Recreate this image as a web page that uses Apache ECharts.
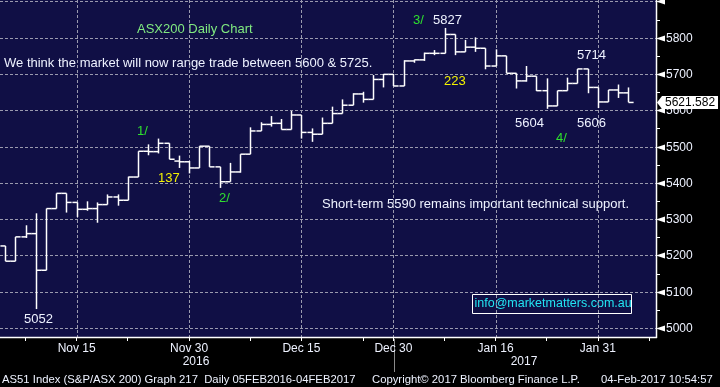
<!DOCTYPE html>
<html><head><meta charset="utf-8">
<script src="https://cdn.jsdelivr.net/npm/echarts@6/dist/echarts.min.js"></script>
<style>html,body{margin:0;padding:0;background:#000;}#c{width:720px;height:387px;}</style>
</head><body><div id="c"></div>
<script>
// ---- data (ASX200 daily OHLC) ----
const dates = ['2016-11-04','2016-11-07','2016-11-08','2016-11-09','2016-11-10','2016-11-11','2016-11-14','2016-11-15','2016-11-16','2016-11-17',
'2016-11-18','2016-11-21','2016-11-22','2016-11-23','2016-11-24','2016-11-25','2016-11-28','2016-11-29','2016-11-30','2016-12-01',
'2016-12-02','2016-12-05','2016-12-06','2016-12-07','2016-12-08','2016-12-09','2016-12-12','2016-12-13','2016-12-14','2016-12-15',
'2016-12-16','2016-12-19','2016-12-20','2016-12-21','2016-12-22','2016-12-23','2016-12-28','2016-12-29','2016-12-30','2017-01-03',
'2017-01-04','2017-01-05','2017-01-06','2017-01-09','2017-01-10','2017-01-11','2017-01-12','2017-01-13','2017-01-16','2017-01-17',
'2017-01-18','2017-01-19','2017-01-20','2017-01-23','2017-01-24','2017-01-25','2017-01-27','2017-01-30','2017-01-31','2017-02-01',
'2017-02-02','2017-02-03','2017-02-06','2017-02-07'];
const opens = [5226,5184,5251,5260,5159,5329,5371,5346,5327,5329,5340,5361,5352,5416,5487,5486,5509,5460,5458,5441,
5501,5444,5403,5430,5479,5543,5561,5564,5547,5587,5539,5534,5564,5591,5614,5645,5630,5685,5699,5667,
5736,5739,5757,5757,5809,5761,5774,5771,5722,5750,5702,5681,5694,5654,5612,5654,5674,5714,5663,5623,5656,5648];
const highs = [5226,5251,5283,5316,5329,5371,5371,5346,5349,5346,5368,5368,5417,5487,5506,5522,5509,5475,5460,5501,
5501,5444,5455,5479,5553,5567,5584,5576,5598,5587,5550,5580,5610,5630,5647,5651,5697,5700,5700,5738,
5740,5759,5766,5827,5809,5794,5801,5771,5768,5750,5702,5722,5694,5688,5654,5690,5714,5714,5663,5656,5671,5663];
const lows = [5184,5184,5248,5052,5159,5329,5318,5306,5323,5290,5340,5337,5352,5416,5476,5481,5465,5441,5426,5441,
5444,5386,5403,5428,5479,5543,5555,5547,5547,5522,5513,5534,5564,5591,5614,5621,5630,5663,5667,5667,
5731,5736,5752,5757,5752,5761,5761,5713,5722,5702,5660,5679,5653,5604,5612,5654,5674,5647,5606,5623,5634,5622];
const closes = [5184,5251,5260,5159,5329,5371,5346,5327,5329,5340,5361,5352,5416,5487,5486,5509,5465,5458,5441,5501,
5444,5403,5430,5479,5543,5561,5564,5547,5587,5539,5534,5564,5591,5614,5645,5630,5685,5699,5667,5736,
5739,5757,5757,5809,5761,5774,5771,5722,5750,5702,5681,5694,5654,5612,5654,5674,5714,5663,5623,5656,5648,5621.582];

const xLabelDates = ['2016-11-15','2016-11-30','2016-12-15','2016-12-30','2017-01-16','2017-01-31'];
const xLabelText  = ['Nov 15','Nov 30','Dec 15','Dec 30','Jan 16','Jan 31'];
const xTickDates  = ['2016-11-08','2016-11-15','2016-11-22','2016-11-30','2016-12-08','2016-12-15','2016-12-23',
                     '2016-12-30','2017-01-09','2017-01-16','2017-01-23','2017-01-31','2017-02-07'];
const yTicks      = [5000,5100,5200,5300,5400,5500,5600,5700,5800,5900];
const yTickLabels = ['5000','5100','5200','5300','5400','5500','5600','5700','5800',''];
const yMinorTicks = [5050,5150,5250,5350,5450,5550,5650,5750,5850];
const lastPrice   = closes[closes.length - 1];

// ---- helpers ----
const FONT = '"Liberation Sans", Arial, sans-serif';
const TXT = '#eef2ff';
const GRID_COLOR = '#9a9aae';
const labelIdx = new Map(xLabelDates.map((d, k) => [dates.indexOf(d), xLabelText[k]]));
const tickIdx = new Set(xTickDates.map(d => dates.indexOf(d)));
const ohlc = opens.map((o, i) => [i, o, highs[i], lows[i], closes[i]]);

function axisRight(cs) { return cs.x + cs.width + 2; }

function renderOHLC(params, api) {
  const i = api.value(0);
  const o = api.coord([i, api.value(1)]);
  const h = api.coord([i, api.value(2)]);
  const l = api.coord([i, api.value(3)]);
  const c = api.coord([i, api.value(4)]);
  const hw = api.size([1, 0])[0] / 2;
  const x = Math.round(o[0]) + 0.5;
  const st = { stroke: '#ffffff', lineWidth: 1.5 };
  return { type: 'group', children: [
    { type: 'line', shape: { x1: x, y1: h[1], x2: x, y2: l[1] }, style: st },
    { type: 'line', shape: { x1: x - hw, y1: o[1], x2: x, y2: o[1] }, style: st },
    { type: 'line', shape: { x1: x, y1: c[1], x2: x + hw, y2: c[1] }, style: st }
  ]};
}

function renderYTick(params, api) {
  const cs = params.coordSys;
  const v = api.value(1);
  const y = Math.round(api.coord([0, v])[1]) + 0.5;
  const ax = axisRight(cs);
  return { type: 'group', children: [
    { type: 'line', shape: { x1: 0, y1: y, x2: ax, y2: y },
      style: { stroke: GRID_COLOR, lineWidth: 1, lineDash: [3, 2] } },
    { type: 'polygon', shape: { points: [[ax, y], [ax + 9, y - 3], [ax + 9, y + 3]] },
      style: { fill: '#ffffff' } },
    { type: 'text', x: ax + 10, y: y,
      style: { text: yTickLabels[params.dataIndex], fill: TXT, font: '12px ' + FONT,
               align: 'left', verticalAlign: 'middle', textAlign: 'left', textVerticalAlign: 'middle' } }
  ]};
}

function renderYMinor(params, api) {
  const cs = params.coordSys;
  const y = Math.round(api.coord([0, api.value(1)])[1]) + 0.5;
  const ax = axisRight(cs);
  return { type: 'line', shape: { x1: ax, y1: y, x2: ax + 4, y2: y }, style: { stroke: '#ffffff', lineWidth: 1 } };
}

function renderXGrid(params, api) {
  const cs = params.coordSys;
  const x = Math.round(api.coord([api.value(0), 5000])[0]) + 0.5;
  return { type: 'line', shape: { x1: x, y1: cs.y, x2: x, y2: cs.y + cs.height },
           style: { stroke: GRID_COLOR, lineWidth: 1, lineDash: [3, 2] } };
}

function renderTag(params, api) {
  const cs = params.coordSys;
  const v = api.value(1);
  const y = api.coord([api.value(0), v])[1];
  const ax = axisRight(cs);
  return { type: 'group', children: [
    { type: 'polygon', shape: { points: [[ax + 1, y], [ax + 6, y - 6.5], [ax + 62, y - 6.5], [ax + 62, y + 6.5], [ax + 6, y + 6.5]] },
      style: { fill: '#ffffff' } },
    { type: 'text', x: ax + 9, y: y,
      style: { text: v.toFixed(3), fill: '#000000', font: '12px ' + FONT,
               align: 'left', verticalAlign: 'middle', textAlign: 'left', textVerticalAlign: 'middle' } }
  ]};
}

function txt(x, y, text, color, size) {
  return { type: 'text', x: x, y: y, silent: true,
    style: { text: text, fill: color, font: (size || 13) + 'px ' + FONT,
             align: 'left', verticalAlign: 'middle', textAlign: 'left', textVerticalAlign: 'middle' } };
}

const GREEN_T = '#80ea80', GREEN = '#2ee02e', YEL = '#f2f200', CYAN = '#22e4f2';

const chart = echarts.init(document.getElementById('c'), null, { renderer: 'canvas' });
chart.setOption({
  animation: false,
  backgroundColor: '#000000',
  grid: { left: -1, top: 0, width: 655, height: 337, containLabel: false },
  xAxis: {
    type: 'category', data: dates, boundaryGap: true,
    axisLine: { show: false },
    axisTick: { show: true, alignWithLabel: true, length: 4, interval: (i) => tickIdx.has(i),
                lineStyle: { color: '#ffffff', width: 1 } },
    axisLabel: { interval: (i) => labelIdx.has(i), formatter: (v, i) => labelIdx.get(i) || '',
                 color: TXT, fontSize: 12, fontFamily: FONT, margin: 6 },
    splitLine: { show: false }
  },
  yAxis: { type: 'value', min: 4975, max: 5904, show: false },
  graphic: [
    { type: 'rect', z: -10, silent: true, shape: { x: 0, y: 0, width: 656, height: 337 }, style: { fill: '#100f45' } },
    { type: 'line', z: 10, silent: true, shape: { x1: 0, y1: 337.5, x2: 657, y2: 337.5 }, style: { stroke: '#ffffff', lineWidth: 1.5 } },
    { type: 'line', z: 10, silent: true, shape: { x1: 656.5, y1: 0, x2: 656.5, y2: 338 }, style: { stroke: '#ffffff', lineWidth: 1.5 } },
    { type: 'line', silent: true, shape: { x1: 394.5, y1: 339, x2: 394.5, y2: 372 }, style: { stroke: '#8a8a8a', lineWidth: 1 } },
    txt(137, 29, 'ASX200 Daily Chart', GREEN_T),
    txt(4, 63, 'We think the market will now range trade between 5600 & 5725.', TXT),
    txt(413, 20, '3/', GREEN),
    txt(433, 20, '5827', TXT),
    txt(444, 81, '223', YEL),
    txt(577, 55, '5714', TXT),
    txt(515, 123, '5604', TXT),
    txt(577, 123, '5606', TXT),
    txt(556, 138, '4/', GREEN),
    txt(137, 131, '1/', GREEN),
    txt(158, 178, '137', YEL),
    txt(219, 198, '2/', GREEN),
    txt(24, 319, '5052', TXT),
    txt(322, 204, 'Short-term 5590 remains important technical support.', TXT),
    { type: 'rect', silent: true, shape: { x: 472.5, y: 294.5, width: 159, height: 19 }, style: { fill: 'none', stroke: '#ffffff', lineWidth: 1 } },
    txt(474.5, 304, 'info@marketmatters.com.au', CYAN, 12.5),
    { type: 'text', x: 196, y: 362, silent: true, style: { text: '2016', fill: TXT, font: '12px ' + FONT, align: 'center', verticalAlign: 'middle', textAlign: 'center', textVerticalAlign: 'middle' } },
    { type: 'text', x: 524, y: 362, silent: true, style: { text: '2017', fill: TXT, font: '12px ' + FONT, align: 'center', verticalAlign: 'middle', textAlign: 'center', textVerticalAlign: 'middle' } },
    txt(2, 380, 'AS51 Index (S&P/ASX 200) Graph 217  Daily 05FEB2016-04FEB2017', TXT, 11.3),
    txt(372, 380, 'Copyright\u00A9 2017 Bloomberg Finance L.P.', TXT, 11.3),
    txt(601, 380, '04-Feb-2017 10:54:57', TXT, 11.3)
  ],
  series: [
    { type: 'custom', name: 'xgrid', z: 1, silent: true, renderItem: renderXGrid, encode: { x: 0, y: 1 },
      data: xLabelDates.map(d => [dates.indexOf(d), 5000]) },
    { type: 'custom', name: 'yticks', z: 1, silent: true, renderItem: renderYTick, encode: { x: 0, y: 1 },
      data: yTicks.map(v => [0, v]) },
    { type: 'custom', name: 'yminor', z: 1, silent: true, renderItem: renderYMinor, encode: { x: 0, y: 1 },
      data: yMinorTicks.map(v => [0, v]) },
    { type: 'custom', name: 'AS51', z: 3, renderItem: renderOHLC, encode: { x: 0, y: [1, 2, 3, 4] }, data: ohlc },
    { type: 'custom', name: 'last', z: 5, silent: true, renderItem: renderTag, encode: { x: 0, y: 1 },
      data: [[closes.length - 1, lastPrice]] }
  ]
});
</script></body></html>
